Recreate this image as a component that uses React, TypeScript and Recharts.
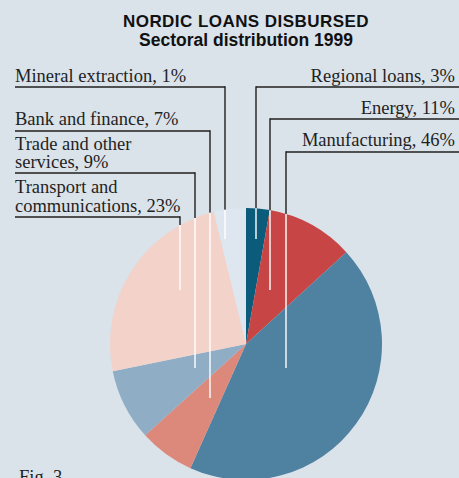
import React from "react";
import { PieChart, Pie, Cell } from "recharts";

// sectors in drawing order, clockwise from 12 o'clock
const sectors = [
  "Regional loans",
  "Energy",
  "Manufacturing",
  "Bank and finance",
  "Trade and other services",
  "Transport and communications",
  "Mineral extraction",
];
// percentages printed in the labels
const labelPercents = [3, 11, 46, 7, 9, 23, 1];
// wedge sizes as drawn in the figure (%)
const sliceShares = [2.8, 10.4, 43.5, 6.6, 8.5, 24.4, 3.8];

const colors = ["#0b5b7b", "#c84545", "#4f82a1", "#dc897c", "#8faec6", "#f3d2c9", "#dee7ef"];

const data = sectors.map((name, i) => ({
  name,
  pct: labelPercents[i],
  value: sliceShares[i],
}));

const BG = "#dae2ea";
const INK = "#1f1f1f";
const LABEL_FONT = "'Liberation Serif', serif";

// where each callout sits: text baselines, underline y, leader x, leader end y
const calloutLayout = [
  { side: "right", baselines: [82], lineY: 87, x: 256, endY: 239, breakAfter: 0 },
  { side: "right", baselines: [114], lineY: 119, x: 270, endY: 290, breakAfter: 0 },
  { side: "right", baselines: [146], lineY: 152, x: 286, endY: 368, breakAfter: 0 },
  { side: "left", baselines: [125], lineY: 131, x: 210, endY: 398, breakAfter: 0 },
  { side: "left", baselines: [150, 168], lineY: 173, x: 195, endY: 368, breakAfter: 3 },
  { side: "left", baselines: [193, 212], lineY: 217, x: 180, endY: 290, breakAfter: 2 },
  { side: "left", baselines: [82], lineY: 87, x: 225, endY: 239, breakAfter: 0 },
];

const renderCallout = (props: any) => {
  const { index, cx, cy, outerRadius } = props;
  const lay = calloutLayout[index];
  const d = data[index];
  const full = `${d.name}, ${d.pct}%`;
  let lines = [full];
  if (lay.breakAfter) {
    const words = full.split(" ");
    lines = [words.slice(0, lay.breakAfter).join(" "), words.slice(lay.breakAfter).join(" ")];
  }
  const dx = lay.x - cx;
  const edgeY = cy - Math.sqrt(outerRadius * outerRadius - dx * dx);
  const isRight = lay.side === "right";
  const x1 = isRight ? lay.x : 15;
  const x2 = isRight ? 459 : lay.x;
  return (
    <g key={`callout-${index}`}>
      {lines.map((t, k) => (
        <text
          key={k}
          x={isRight ? 455 : 15}
          y={lay.baselines[k]}
          textAnchor={isRight ? "end" : "start"}
          fontFamily={LABEL_FONT}
          fontSize={18.5}
          fill={INK}
        >
          {t}
        </text>
      ))}
      <line x1={x1} x2={x2} y1={lay.lineY} y2={lay.lineY} stroke={INK} strokeWidth={1.4} />
      <line x1={lay.x} x2={lay.x} y1={lay.lineY - 0.7} y2={edgeY} stroke={INK} strokeWidth={1.4} />
      <line x1={lay.x} x2={lay.x} y1={edgeY} y2={lay.endY} stroke="#ffffff" strokeWidth={1.4} />
    </g>
  );
};

export default function App() {
  return (
    <div style={{ position: "fixed", left: 0, top: 0, width: 459, height: 478, background: BG, overflow: "hidden" }}>
      <PieChart width={459} height={478} margin={{ top: 0, right: 0, bottom: 0, left: 0 }}>
        <text x={246} y={27} textAnchor="middle" fontFamily="'Liberation Sans', Arial, sans-serif" fontWeight={900} fontSize={17} letterSpacing={0.45} fill="#111">
          NORDIC LOANS DISBURSED
        </text>
        <text x={246} y={46} textAnchor="middle" fontFamily="'Liberation Sans', Arial, sans-serif" fontWeight={700} fontSize={17.5} fill="#111">
          Sectoral distribution 1999
        </text>
        <text x={19} y={483} fontFamily={LABEL_FONT} fontSize={18.5} fill={INK}>
          Fig. 3
        </text>
        <Pie
          data={data}
          dataKey="value"
          nameKey="name"
          cx={246}
          cy={344}
          outerRadius={136}
          startAngle={90}
          endAngle={-270}
          stroke="none"
          label={renderCallout}
          labelLine={false}
          isAnimationActive={false}
        >
          {data.map((entry, i) => (
            <Cell key={`cell-${i}`} fill={colors[i]} />
          ))}
        </Pie>
      </PieChart>
    </div>
  );
}
